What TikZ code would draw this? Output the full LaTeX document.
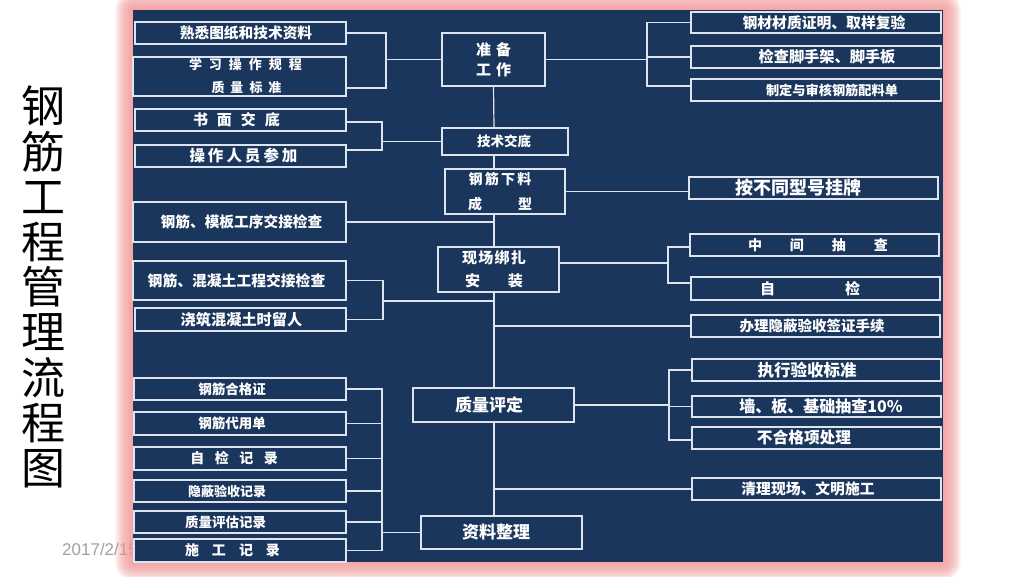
\documentclass[tikz,border=0pt]{standalone}
\usepackage{fontspec}
\setmainfont{Liberation Sans}
\newfontfamily\cjk{Noto Sans CJK SC}
\newcommand\fz[1]{\fontsize{#1}{#1}\selectfont}
\newcommand\sh[2]{\kern#1pt\relax#2\kern-#1pt\relax}
\newcommand\gp[1]{\hspace*{#1pt}}
\definecolor{navy}{RGB}{26,54,93}
\definecolor{boxline}{RGB}{222,228,238}
\definecolor{glow}{RGB}{244,150,150}
\definecolor{dategray}{RGB}{160,160,160}
\begin{document}
\begin{tikzpicture}[x=1pt,y=-1pt,
  box/.style={draw=boxline, line width=1.2pt, fill=navy, text=white, inner sep=0pt, font=\cjk\bfseries},
  link/.style={draw=boxline, line width=1.2pt}]
\useasboundingbox (0,0) rectangle (1024,576);
\fill[white] (0,0) rectangle (1024,576);
% title and date
\node[font=\cjk\fontsize{44}{45.2}\selectfont, align=center, inner sep=0pt] (title) at (43,287) {钢\\筋\\工\\程\\管\\理\\流\\程\\图};
\node[font=\fontsize{17}{17}\selectfont, text=dategray, anchor=west, inner sep=0pt] (date) at (62,549.5) {2017/2/15};
% glow and panel
\foreach \i in {1,...,18}{\fill[glow, opacity=0.085, rounded corners=\i pt] ({133-\i},{10-\i}) rectangle ({943+\i},{562+\i});}
\fill[navy] (133,10) rectangle (943,562);
% left boxes
\node[box, minimum width=211pt, minimum height=22pt] (L1) at (240.5,33) {\fz{14.7}\sh{5.5}{熟悉图纸和技术资料}};
\node[box, minimum width=213pt, minimum height=39pt, align=center, font=\cjk\bfseries\fontsize{13}{23}\selectfont] (L2) at (239.5,76.5) {\gp{12}学\gp{7}习\gp{7}操\gp{7}作\gp{7}规\gp{7}程\\\gp{14}质\gp{6}量\gp{6}标\gp{6}准};
\node[box, minimum width=211pt, minimum height=22pt] (L3) at (240.5,120) {\fz{15}\sh{-4}{书\gp{9}面\gp{9}交\gp{9}底}};
\node[box, minimum width=211pt, minimum height=22pt] (L4) at (240.5,156) {\fz{15.5}\sh{3}{操\gp{3}作\gp{3}人\gp{3}员\gp{3}参\gp{3}加}};
\node[box, minimum width=213pt, minimum height=40pt] (L5) at (239.5,222) {\fz{14.7}\sh{2}{钢筋、模板工序交接检查}};
\node[box, minimum width=213pt, minimum height=39pt] (L6) at (239.5,280.5) {\fz{14.8}\sh{-3}{钢筋、混凝土工程交接检查}};
\node[box, minimum width=211pt, minimum height=23pt] (L7) at (240.5,319.5) {\fz{15.2}\sh{1}{浇筑混凝土时留人}};
\node[box, minimum width=212pt, minimum height=22pt] (L8) at (240,389) {\fz{13.5}\sh{-8}{钢筋合格证}};
\node[box, minimum width=212pt, minimum height=23pt] (L9) at (240,423.5) {\fz{13.5}\sh{-8}{钢筋代用单}};
\node[box, minimum width=212pt, minimum height=23pt] (L10) at (240,458.5) {\fz{14}\sh{-6}{自\gp{10.5}检\gp{10.5}记\gp{10.5}录}};
\node[box, minimum width=212pt, minimum height=22pt] (L11) at (240,491) {\fz{13}\sh{-13}{隐蔽验收记录}};
\node[box, minimum width=212pt, minimum height=22pt] (L12) at (240,522) {\fz{13.5}\sh{-14.5}{质量评估记录}};
\node[box, minimum width=212pt, minimum height=23pt] (L13) at (240,550.5) {\fz{14}\sh{-7.5}{施\gp{13}工\gp{13}记\gp{13}录}};
% centre boxes
\node[box, minimum width=103pt, minimum height=53pt, align=center, font=\cjk\bfseries\fontsize{15}{20}\selectfont] (C1) at (493.5,59.5) {准\gp{5}备\\工\gp{5}作};
\node[box, minimum width=126pt, minimum height=27pt] (C2) at (505,141.5) {\fz{13.5}\sh{-1}{技术交底}};
\node[box, minimum width=120pt, minimum height=45pt, align=center, font=\cjk\bfseries\fontsize{14}{25}\selectfont] (C3) at (505,191.5) {钢\gp{2.3}筋\gp{2.3}下\gp{2.3}料\gp{10}\\成\gp{36}型\gp{10}};
\node[box, minimum width=121pt, minimum height=45pt, align=center, font=\cjk\bfseries\fontsize{15}{23}\selectfont] (C4) at (498.5,269.5) {现\gp{1.3}场\gp{1.3}绑\gp{1.3}扎\gp{9}\\安\gp{28}装\gp{9}};
\node[box, minimum width=161pt, minimum height=34pt] (C5) at (493.5,405) {\fz{17}\sh{-4.5}{质量评定}};
\node[box, minimum width=161pt, minimum height=33pt] (C6) at (501.5,532.5) {\fz{17}\sh{-5.5}{资料整理}};
% right boxes
\node[box, minimum width=250pt, minimum height=21pt] (R1) at (816,22.5) {\fz{14.8}\sh{8}{钢材材质证明、取样复验}};
\node[box, minimum width=250pt, minimum height=22pt] (R2) at (816,57) {\fz{15.2}\sh{11}{检查脚手架、脚手板}};
\node[box, minimum width=250pt, minimum height=22pt] (R3) at (816,90) {\fz{13.2}\sh{16}{制定与审核钢筋配料单}};
\node[box, minimum width=249pt, minimum height=22pt] (R4) at (813.5,188) {\fz{18}\sh{-15}{按不同型号挂牌}};
\node[box, minimum width=249pt, minimum height=22pt] (R5) at (814.5,245) {\fz{14}\sh{3.5}{中\gp{28}间\gp{28}抽\gp{28}查}};
\node[box, minimum width=249pt, minimum height=23pt] (R6) at (815.5,288.5) {\fz{15}\sh{-5.5}{自\gp{70}检}};
\node[box, minimum width=249pt, minimum height=22pt] (R7) at (815.5,326) {\fz{14.5}\sh{-3.5}{办理隐蔽验收签证手续}};
\node[box, minimum width=249pt, minimum height=22pt] (R8) at (816.5,370) {\fz{16.5}\sh{-9.5}{执行验收标准}};
\node[box, minimum width=249pt, minimum height=21pt] (R9) at (816.5,406.5) {\fz{16}\sh{4.5}{墙、板、基础抽查10\%}};
\node[box, minimum width=249pt, minimum height=22pt] (R10) at (816.5,438) {\fz{15.7}\sh{-12.5}{不合格项处理}};
\node[box, minimum width=249pt, minimum height=22pt] (R11) at (816.5,489) {\fz{14.8}\sh{-8.5}{清理现场、文明施工}};
% junctions
\coordinate (tx) at (494,0);
\coordinate (jA) at (386,59.5);
\coordinate (jB) at (382,141.5);
\coordinate (jC) at (383,301);
\coordinate (jD) at (647,59.5);
\coordinate (jE) at (668,263);
\coordinate (jF) at (669,405);
\coordinate (jG) at (382,532.5);
% trunk
\draw[link] (C1.south) -- (tx |- C2.north);
\draw[link] (tx |- C2.south) -- (tx |- C3.north);
\draw[link] (tx |- C3.south) -- (tx |- C4.north);
\draw[link] (tx |- C4.south) -- (tx |- C5.north);
\draw[link] (tx |- C5.south) -- (tx |- C6.north);
% left brackets
\draw[link] (L1.east) -| (jA) -- (C1.west);
\draw[link] ([yshift=-11.5pt]L2.east) -| (jA);
\draw[link] ([yshift=-2pt]L3.east) -| (jB) -- (C2.west);
\draw[link] ([yshift=6pt]L4.east) -| (jB);
\draw[link] (L5.east) -- (tx |- L5.east);
\draw[link] (L6.east) -| (jC) -- (tx |- jC);
\draw[link] (L7.east) -| (jC);
\foreach \n in {L8,L9,L10,L11,L12,L13}{\draw[link] (\n.east) -| (jG);}
\draw[link] (jG) -- (C6.west);
% right brackets
\draw[link] (C1.east) -- (jD);
\draw[link] (R1.west) -| (jD);
\draw[link] (R2.west) -| (jD);
\draw[link] ([yshift=4pt]R3.west) -| (jD);
\draw[link] (C3.east) -- (C3.east -| R4.west);
\draw[link] ([yshift=6.5pt]C4.east) -- (jE);
\draw[link] ([yshift=-2pt]R5.west) -| (jE);
\draw[link] ([yshift=5.5pt]R6.west) -| (jE);
\draw[link] (tx |- R7.west) -- (R7.west);
\draw[link] (C5.east) -- (jF);
\draw[link] (R8.west) -| (jF);
\draw[link] (R9.west) -| (jF);
\draw[link] ([yshift=-2pt]R10.west) -| (jF);
\draw[link] (tx |- R11.west) -- (R11.west);
\end{tikzpicture}
\end{document}
